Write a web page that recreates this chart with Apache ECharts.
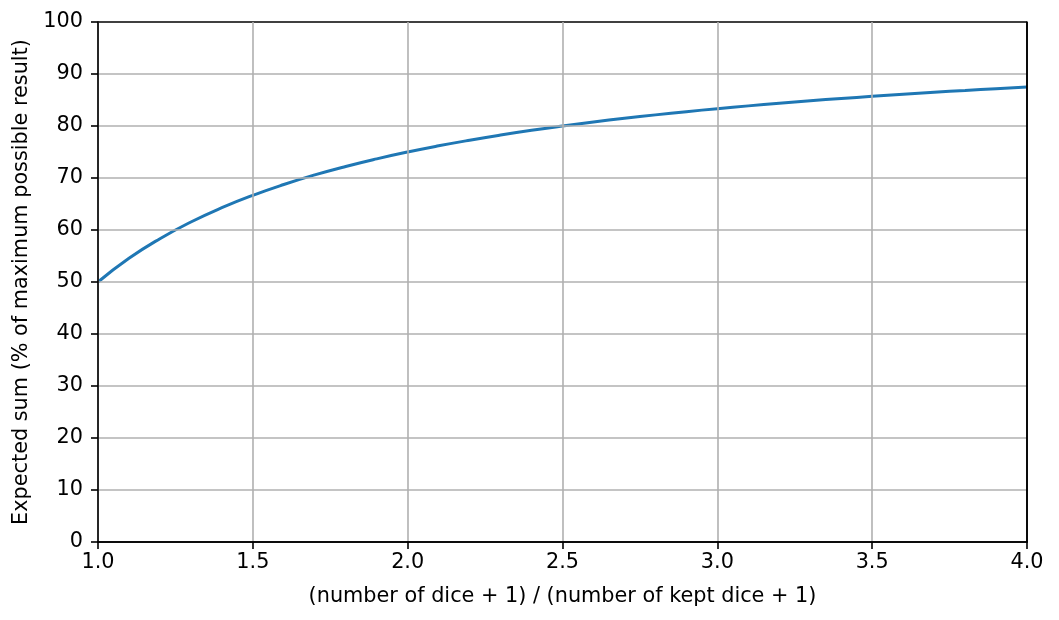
<!DOCTYPE html>
<html><head><meta charset="utf-8">
<script src="https://cdn.jsdelivr.net/npm/echarts@6/dist/echarts.min.js"></script>
<style>html,body{margin:0;padding:0;background:#fff}#c{width:1059px;height:620px}</style>
</head><body><div id="c"></div>
<script>
const ratios = [1.0,1.1,1.2,1.3,1.4,1.5,1.6,1.7,1.8,1.9,2.0,2.1,2.2,2.3,2.4,2.5,2.6,2.7,2.8,2.9,3.0,3.1,3.2,3.3,3.4,3.5,3.6,3.7,3.8,3.9,4.0];
const expected = [50.00,54.55,58.33,61.54,64.29,66.67,68.75,70.59,72.22,73.68,75.00,76.19,77.27,78.26,79.17,80.00,80.77,81.48,82.14,82.76,83.33,83.87,84.38,84.85,85.29,85.71,86.11,86.49,86.84,87.18,87.50];
const xName = '(number of dice + 1) / (number of kept dice + 1)';
const yName = 'Expected sum (% of maximum possible result)';

const font = 'DejaVu Sans';
const fs = 20.8;
const G = '#b0b0b0';
const spine = {show: true, lineStyle: {color: '#000', width: 1.6}};
const chart = echarts.init(document.getElementById('c'));
chart.setOption({
  animation: false,
  grid: {left: 98, right: 32, top: 22, bottom: 78},
  xAxis: [{
    type: 'value', min: 1, max: 4, interval: 0.5, z: 5,
    name: xName, nameLocation: 'middle', nameGap: 44,
    nameTextStyle: {fontFamily: font, fontSize: fs, color: '#000'},
    axisLine: spine,
    axisTick: {show: true, length: 7, lineStyle: {color: '#000', width: 1.6}},
    axisLabel: {fontFamily: font, fontSize: fs, color: '#000', margin: 10, formatter: v => v.toFixed(1)},
    splitLine: {show: true, lineStyle: {color: [G, G, G, G, G, G, '#000'], width: 1.6}}
  }, {
    type: 'value', position: 'top', min: 1, max: 4, interval: 0.5, z: 10,
    axisLine: spine, axisTick: {show: false}, axisLabel: {show: false}, splitLine: {show: false}
  }],
  yAxis: [{
    type: 'value', min: 0, max: 100, interval: 10, z: 5,
    name: yName, nameLocation: 'middle', nameGap: 60,
    nameTextStyle: {fontFamily: font, fontSize: fs, color: '#000'},
    axisLine: spine,
    axisTick: {show: true, length: 7, lineStyle: {color: '#000', width: 1.6}},
    axisLabel: {fontFamily: font, fontSize: fs, color: '#000', margin: 15},
    splitLine: {show: true, lineStyle: {color: [G, G, G, G, G, G, G, G, G, G, '#000'], width: 1.6}}
  }, {
    type: 'value', position: 'right', min: 0, max: 100, interval: 10, z: 10,
    axisLine: spine, axisTick: {show: false}, axisLabel: {show: false}, splitLine: {show: false}
  }],
  series: [{
    type: 'line', xAxisIndex: 0, yAxisIndex: 0, z: 3,
    data: ratios.map((r, i) => [r, expected[i]]),
    showSymbol: false, smooth: true,
    lineStyle: {color: '#1f77b4', width: 3}
  }]
});
</script></body></html>
